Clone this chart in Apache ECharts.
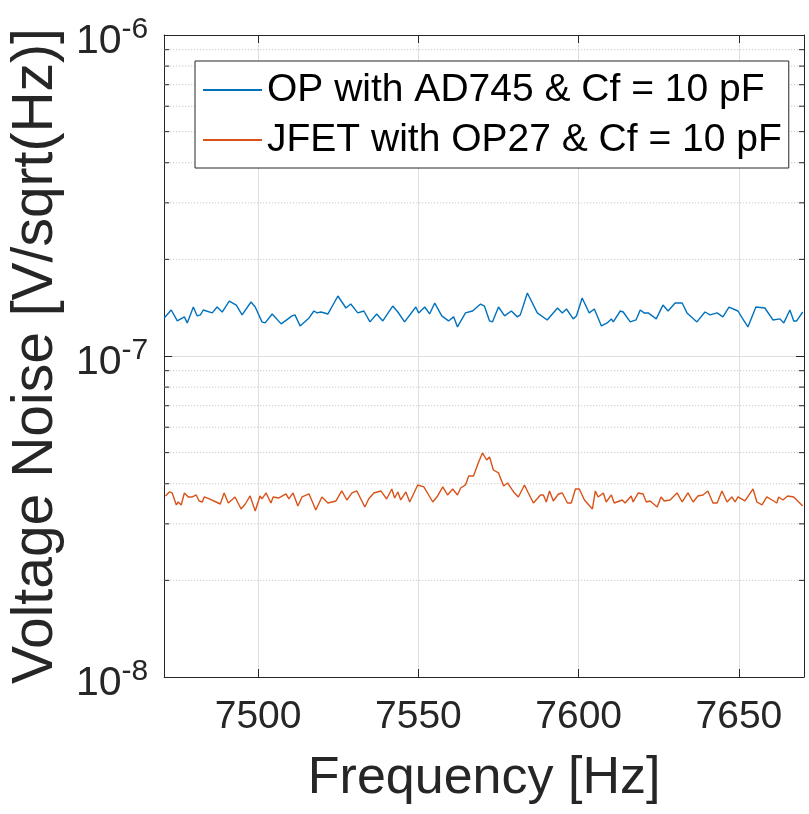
<!DOCTYPE html>
<html>
<head>
<meta charset="utf-8">
<script src="https://cdn.jsdelivr.net/npm/echarts@6/dist/echarts.min.js"></script>
<style>
html,body{margin:0;padding:0;background:#fff;}
#chart{width:809px;height:814px;}
</style>
</head>
<body>
<div id="chart"></div>
<script>
// ---- data ----
var xMin = 7470.7, xMax = 7670.3;
var yMin = 1e-8, yMax = 1e-6;
var seriesNames = ['OP with AD745 & Cf = 10 pF', 'JFET with OP27 & Cf = 10 pF'];

// blue trace: frequency [Hz], value in units of 1e-7 V/sqrt(Hz)
var blueFreq = [7470.7,7472.9,7474.8,7477.0,7477.9,7479.8,7481.0,7482.0,7482.9,7485.7,7487.2,7488.8,7491.0,7493.2,7495.0,7497.8,7499.1,7501.2,7502.2,7504.4,7507.2,7510.6,7511.5,7513.1,7515.9,7517.4,7518.4,7519.6,7521.8,7524.9,7527.4,7528.9,7531.1,7533.0,7534.9,7537.0,7538.9,7542.0,7543.6,7545.7,7549.2,7550.1,7552.0,7553.5,7555.1,7557.3,7559.4,7561.0,7562.2,7564.7,7566.9,7569.4,7570.6,7572.2,7573.1,7575.0,7576.9,7579.0,7580.9,7581.8,7584.0,7587.1,7590.2,7593.4,7594.9,7596.2,7598.3,7599.3,7601.1,7603.3,7604.9,7607.1,7608.9,7610.2,7610.8,7613.0,7613.9,7616.1,7617.9,7619.2,7620.4,7621.7,7624.2,7626.3,7627.9,7630.1,7632.3,7633.8,7636.9,7639.4,7641.0,7643.2,7645.0,7646.9,7649.7,7651.2,7652.8,7655.3,7658.1,7660.6,7662.8,7664.0,7665.9,7667.1,7668.0,7669.9];
var blueVal = [1.314,1.391,1.286,1.324,1.268,1.421,1.333,1.343,1.391,1.362,1.421,1.371,1.483,1.441,1.343,1.473,1.421,1.277,1.268,1.352,1.259,1.333,1.343,1.241,1.314,1.381,1.362,1.371,1.352,1.538,1.411,1.452,1.362,1.381,1.277,1.352,1.286,1.431,1.371,1.277,1.421,1.362,1.421,1.352,1.462,1.333,1.286,1.324,1.232,1.362,1.381,1.452,1.431,1.286,1.277,1.421,1.333,1.381,1.324,1.343,1.571,1.362,1.295,1.411,1.362,1.401,1.305,1.333,1.516,1.362,1.401,1.241,1.268,1.305,1.277,1.381,1.371,1.277,1.295,1.391,1.362,1.362,1.305,1.441,1.381,1.462,1.462,1.362,1.277,1.371,1.343,1.362,1.324,1.421,1.381,1.305,1.232,1.421,1.411,1.295,1.305,1.268,1.391,1.286,1.286,1.371];

// orange trace: frequency [Hz], value in units of 1e-8 V/sqrt(Hz)
var orangeFreq = [7471.1,7472.3,7473.2,7474.5,7475.1,7476.0,7477.0,7478.2,7479.5,7480.7,7481.6,7482.6,7483.2,7484.8,7486.9,7488.2,7489.4,7490.7,7492.8,7494.7,7496.0,7497.5,7499.1,7500.6,7501.2,7502.5,7504.0,7504.7,7506.5,7508.7,7509.6,7510.9,7512.4,7513.7,7515.9,7518.0,7519.9,7521.8,7524.3,7526.1,7527.7,7529.3,7530.8,7533.3,7534.5,7536.1,7538.3,7540.1,7541.7,7542.6,7543.6,7544.5,7546.1,7547.3,7549.8,7551.7,7554.5,7556.0,7557.6,7559.1,7560.7,7562.2,7563.2,7564.7,7565.7,7567.2,7568.8,7570.0,7571.3,7572.2,7573.4,7575.0,7576.6,7577.8,7579.7,7581.2,7583.1,7584.3,7585.9,7588.1,7589.0,7589.9,7590.9,7592.1,7593.7,7594.9,7596.5,7597.7,7599.0,7600.2,7601.8,7604.3,7605.2,7606.1,7607.7,7608.6,7610.2,7611.1,7613.6,7614.5,7616.4,7617.0,7618.6,7620.1,7621.1,7622.3,7624.5,7625.7,7626.7,7628.5,7630.7,7632.3,7634.1,7635.7,7637.2,7638.8,7640.3,7641.9,7643.2,7644.7,7646.3,7647.8,7648.8,7649.7,7651.9,7654.4,7655.6,7657.2,7658.7,7660.3,7661.8,7662.4,7663.7,7665.2,7667.1,7669.9];
var orangeVal = [3.664,3.771,3.744,3.435,3.509,3.435,3.744,3.638,3.638,3.691,3.535,3.509,3.638,3.586,3.509,3.459,3.744,3.484,3.638,3.338,3.459,3.664,3.290,3.664,3.586,3.744,3.484,3.638,3.612,3.717,3.586,3.744,3.410,3.638,3.717,3.313,3.638,3.484,3.535,3.798,3.560,3.744,3.798,3.386,3.586,3.744,3.798,3.586,3.853,3.612,3.771,3.560,3.771,3.509,3.965,3.909,3.509,3.664,3.909,3.691,3.853,3.691,3.880,3.965,4.230,4.230,4.677,4.989,4.743,4.848,4.414,4.322,3.937,4.023,3.771,3.638,3.965,3.744,3.484,3.691,3.691,3.509,3.798,3.535,3.717,3.744,3.484,3.484,3.853,3.853,3.560,3.338,3.798,3.638,3.744,3.509,3.691,3.484,3.560,3.484,3.664,3.509,3.744,3.717,3.509,3.535,3.386,3.638,3.535,3.560,3.744,3.509,3.744,3.509,3.664,3.691,3.798,3.484,3.484,3.798,3.509,3.638,3.509,3.638,3.535,3.853,3.509,3.435,3.638,3.560,3.484,3.638,3.560,3.664,3.638,3.410];

var blueUnit = 1e-7, orangeUnit = 1e-8;
// minor log grid values
var minorVals = [2e-8,3e-8,4e-8,5e-8,6e-8,7e-8,8e-8,9e-8,2e-7,3e-7,4e-7,5e-7,6e-7,7e-7,8e-7,9e-7];

// ---- chart ----
var FONT = 'Liberation Sans, Arial, Helvetica, sans-serif';
var AX = '#262626';

function pairs(fs, vs, unit) {
  return fs.map(function (f, i) { return [f, vs[i] * unit]; });
}

function logLabel(v) {
  var e = Math.round(Math.log10(v));
  return '{b|10}{s|' + e + '}';
}

function plainLabel(v) {
  return String(Math.round(v));
}

var chart = echarts.init(document.getElementById('chart'), null, {renderer: 'canvas'});
chart.setOption({
  backgroundColor: '#ffffff',
  animation: false,
  textStyle: {fontFamily: FONT},
  grid: {left: 163, right: 5, top: 35, bottom: 137, show: false},
  legend: {
    data: seriesNames.map(function (n) { return {name: n, icon: 'rect'}; }),
    orient: 'vertical',
    left: 195, top: 61,
    padding: [9, 7, 8, 8],
    itemWidth: 59, itemHeight: 2, itemGap: 10,
    backgroundColor: '#ffffff',
    borderColor: AX, borderWidth: 1,
    textStyle: {fontFamily: FONT, fontSize: 39, lineHeight: 40, color: '#000000'}
  },
  xAxis: [{
    type: 'value', min: xMin, max: xMax, splitNumber: 4,
    name: 'Frequency [Hz]', nameLocation: 'middle', nameGap: 76,
    nameTextStyle: {fontFamily: FONT, fontSize: 52, color: AX},
    axisLine: {show: true, lineStyle: {color: AX, width: 1}},
    axisTick: {show: true, inside: true, length: 8, lineStyle: {color: AX}},
    axisLabel: {show: true, margin: 21, fontFamily: FONT, fontSize: 39, color: AX,
      showMinLabel: false, showMaxLabel: false, formatter: plainLabel},
    splitLine: {show: true, lineStyle: {color: '#dfdfdf', width: 1}}
  }, {
    type: 'value', min: xMin, max: xMax, splitNumber: 4, position: 'top',
    axisLine: {show: true, lineStyle: {color: AX, width: 1}},
    axisTick: {show: true, inside: true, length: 8, lineStyle: {color: AX}},
    axisLabel: {show: false}, splitLine: {show: false}
  }],
  yAxis: [{
    type: 'log', logBase: 10, min: yMin, max: yMax,
    name: 'Voltage Noise [V/sqrt(Hz)]', nameLocation: 'middle', nameGap: 92,
    nameTextStyle: {fontFamily: FONT, fontSize: 57, color: AX},
    axisLine: {show: true, lineStyle: {color: AX, width: 1}},
    axisTick: {show: true, inside: true, length: 8, lineStyle: {color: AX}},
    axisLabel: {
      show: true, margin: 16, formatter: logLabel,
      rich: {
        b: {fontFamily: FONT, fontSize: 41, lineHeight: 41, color: AX, padding: [14, 0, 0, 0]},
        s: {fontFamily: FONT, fontSize: 30, lineHeight: 30, color: AX, verticalAlign: 'top'}
      }
    },
    splitLine: {show: true, lineStyle: {color: '#dfdfdf', width: 1}}
  }, {
    type: 'log', logBase: 10, min: yMin, max: yMax, position: 'right',
    axisLine: {show: true, lineStyle: {color: AX, width: 1}},
    axisTick: {show: true, inside: true, length: 8, lineStyle: {color: AX}},
    axisLabel: {show: false}, splitLine: {show: false}
  }],
  series: [{
    type: 'custom', name: 'minor', silent: true, z: 1,
    xAxisIndex: 0, yAxisIndex: 0,
    data: minorVals.map(function (v) { return [xMin, v]; }),
    encode: {x: 0, y: 1},
    renderItem: function (params, api) {
      var v = api.value(1);
      var p1 = api.coord([xMin, v]);
      var p2 = api.coord([xMax, v]);
      return {
        type: 'group',
        children: [
          {type: 'line', shape: {x1: p1[0], y1: p1[1], x2: p2[0], y2: p2[1]},
           style: {stroke: '#bdbdbd', lineWidth: 1, lineDash: [1, 2]}},
          {type: 'line', shape: {x1: p1[0], y1: p1[1], x2: p1[0] + 5, y2: p1[1]},
           style: {stroke: AX, lineWidth: 1}},
          {type: 'line', shape: {x1: p2[0] - 5, y1: p2[1], x2: p2[0], y2: p2[1]},
           style: {stroke: AX, lineWidth: 1}}
        ]
      };
    }
  }, {
    type: 'line', name: seriesNames[0], z: 3,
    data: pairs(blueFreq, blueVal, blueUnit),
    showSymbol: false, symbol: 'none',
    lineStyle: {color: '#0072BD', width: 1.4},
    itemStyle: {color: '#0072BD'}
  }, {
    type: 'line', name: seriesNames[1], z: 3,
    data: pairs(orangeFreq, orangeVal, orangeUnit),
    showSymbol: false, symbol: 'none',
    lineStyle: {color: '#D95319', width: 1.4},
    itemStyle: {color: '#D95319'}
  }]
});
</script>
</body>
</html>
